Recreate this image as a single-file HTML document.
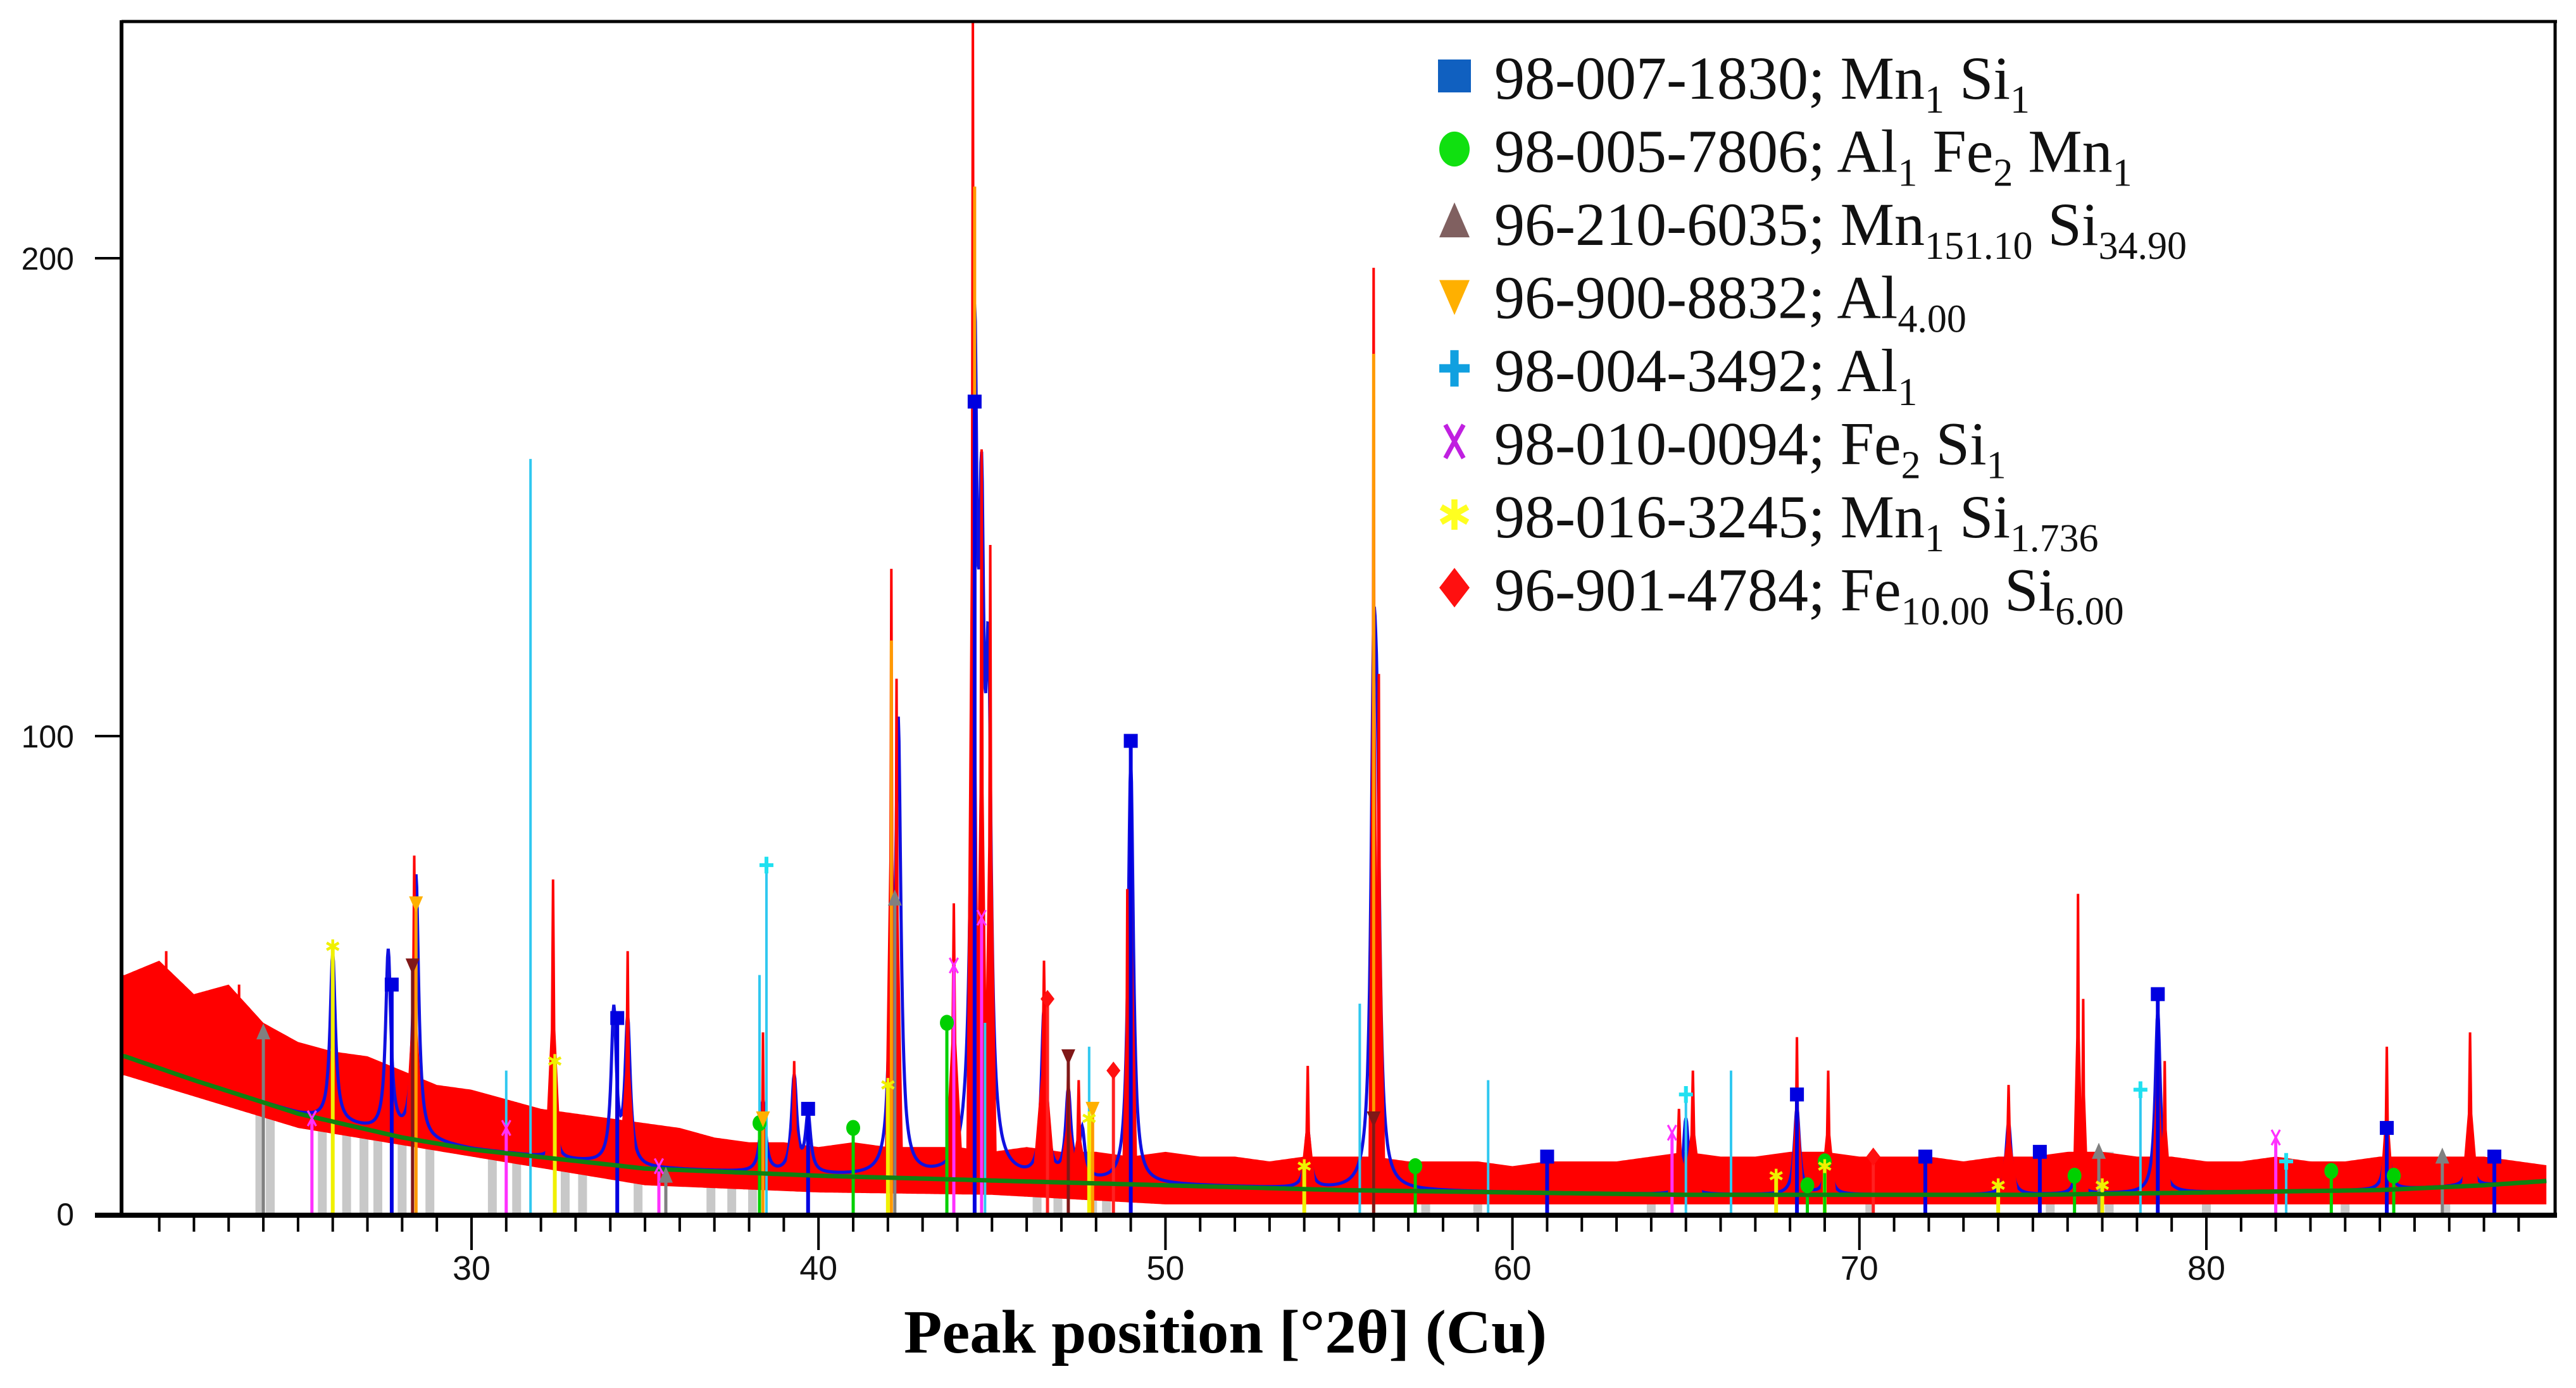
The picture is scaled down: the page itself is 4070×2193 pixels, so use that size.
<!DOCTYPE html>
<html><head><meta charset="utf-8"><style>
html,body{margin:0;padding:0;background:#fff;}
svg{display:block;}
</style></head><body>
<svg id="chart" xmlns="http://www.w3.org/2000/svg" width="4070" height="2193" viewBox="0 0 4070 2193">
<defs><clipPath id="plotclip"><rect x="194" y="36" width="3841" height="1884"/></clipPath></defs>
<rect x="0" y="0" width="4070" height="2193" fill="#fff"/>
<g id="plot" clip-path="url(#plotclip)"></g>
<g id="axes"></g>
<g id="legend" font-family="'Liberation Serif', serif" font-size="96" fill="#111"></g>
<text x="1936" y="2137" text-anchor="middle" font-family="'Liberation Serif', serif" font-weight="bold" font-size="98" textLength="1016" lengthAdjust="spacingAndGlyphs" fill="#000">Peak position [°2θ] (Cu)</text>
</svg>
<script>
// ---- data ----
const xTicks = [30, 40, 50, 60, 70, 80];
const yTicks = [0, 100, 200];
const bgX = [20, 22, 25, 28, 30, 35, 40, 45, 50, 55, 60, 65, 70, 75, 80, 85, 88, 90];
const bgY = [33, 28, 21, 16, 13.5, 9.5, 8, 7, 6, 5, 4.5, 4, 4, 4, 4.5, 5, 6, 7];
const noiseTopX = [20,21,22,23,24,25,26,27,28,29,30,31,32,33,34,35,36,37,38,39,40,41,42,43,44,45,46,47,48,49,50,51,52,53,54,55,56,57,58,59,60,61,62,63,64,65,66,67,68,69,70,71,72,73,74,75,76,77,78,79,80,81,82,83,84,85,86,87,88,89,90];
const noiseTopY = [50,53,46,48,40,36,34,33,30,27,26,24,22,21,20,19,18,16,15,15,14,15,14,14,14,13,14,13,13,12,13,12,12,11,12,12,12,11,11,11,10,11,11,11,12,13,12,12,13,13,12,12,12,11,12,12,13,13,12,12,11,11,12,11,11,12,12,12,12,11,10];
const noiseBotX = [20, 25, 30, 35, 40, 45, 50, 60, 70, 80, 90];
const noiseBotY = [29, 18, 12, 6, 4.5, 4, 2, 2, 2, 2, 2];
const peakPos = [26.0,27.6,28.35,32.35,34.2,34.5,38.4,39.3,42.1,42.25,43.9,44.45,44.7,44.95,46.5,47.2,47.5,48.9,49.0,54.1,56.0,56.15,64.8,65.2,68.2,69.1,74.3,76.3,76.45,78.6,78.8,85.2,87.6,21.2,23.3];
const peakH   = [55,30,75,70,35,55,38,32,135,112,65,250,160,140,53,32,28,68,100,31,198,113,22,30,37,30,27,67,45,45,32,35,38,55,48];
const peakW   = [0.10,0.10,0.12,0.10,0.08,0.10,0.06,0.12,0.08,0.08,0.12,0.08,0.08,0.08,0.15,0.12,0.12,0.06,0.08,0.10,0.06,0.08,0.15,0.12,0.08,0.10,0.12,0.06,0.06,0.08,0.08,0.08,0.10,0.05,0.05];
const calcPos = [26.0,27.6,28.4,32.4,34.1,34.5,38.4,39.3,39.7,42.1,42.3,44.5,44.7,44.9,46.5,47.2,47.6,49.0,54.1,56.0,56.1,65.0,68.2,69.1,74.3,76.3,78.6,85.2,87.6];
const calcH   = [35,38,55,8,32,30,15,20,12,35,90,160,110,90,35,18,10,88,12,90,65,16,18,10,15,8,38,12,9];
const mnsiPos = [27.7,34.2,39.7,44.5,49.0,61.0,68.2,71.9,75.2,78.6,85.2,88.3];
const mnsiH   = [48,41,22,170,99,12,25,12,13,46,18,12];
const alfemnPos = [38.3,41.0,43.7,57.2,69.0,76.2,83.6,85.4,68.5];
const alfemnH   = [19,18,40,10,11,8,9,8,6];
const mn151Pos = [24.0,76.9,86.8,42.2,35.6];
const mn151H   = [38,13,12,66,8];
const al4Pos = [44.5,56.0,42.1,28.4,38.4,47.9];
const al4H   = [215,180,120,65,20,22];
const al1Pos = [31.7,38.5,44.8,65.0,78.1,82.3,55.6,59.3,66.3,31.0,38.3,47.8];
const al1H   = [158,73,40,25,26,11,44,28,30,30,50,35];
const fe2siPos = [25.4,31.0,43.9,44.7,64.6,82.0,35.4];
const fe2siH   = [20,18,52,62,17,16,10];
const mnsi17Pos = [26.0,32.4,42.0,47.8,54.0,67.6,69.0,74.0,77.0];
const mnsi17H   = [56,32,27,20,10,8,10,6,6];
const fe10Pos = [46.6,48.5,70.4];
const fe10H   = [45,30,12];
const unkPos = [28.3,56.0,47.2];
const unkH   = [52,20,33];
const grayPos = [23.9,24.2,25.7,26.4,26.9,27.3,28.0,28.8,30.6,31.3,32.7,33.2,34.8,36.9,37.5,38.1,46.3,46.9,47.9,48.3,57.5,59.0,64.0,70.3,75.5,77.2,80.0,84.0,86.9];
const grayH   = [26,26,22,20,20,18,18,16,14,13,12,12,10,8,8,8,10,10,9,9,4,4,4,4,4,13,4,4,12];

// ---- scales ----
const X = v => 745 + (v - 30) * 54.82;
const Y = v => 1918 - v * 7.55;
const NS = 'http://www.w3.org/2000/svg';
function mk(tag, attrs, parent){ const e=document.createElementNS(NS,tag); for(const k in attrs) e.setAttribute(k,attrs[k]); parent.appendChild(e); return e; }
function interp(xs, ys, x){ if(x<=xs[0]) return ys[0]; for(let i=1;i<xs.length;i++){ if(x<=xs[i]){ const t=(x-xs[i-1])/(xs[i]-xs[i-1]); return ys[i-1]+t*(ys[i]-ys[i-1]); } } return ys[ys.length-1]; }
const bg = x => interp(bgX, bgY, x);
const plot = document.getElementById('plot');
const axes = document.getElementById('axes');

grayPos.forEach((p,i)=>{
  const l = mk('line',{x1:X(p),x2:X(p),y1:Y(0),y2:Y(grayH[i]),stroke:'#c8c8c8','stroke-width':14},plot);
  
  
});

{
  let pts=[]; for(let x=19.8;x<=89.8;x+=0.05){ pts.push(X(x).toFixed(1)+','+Y(interp(noiseTopX,noiseTopY,x)).toFixed(1)); }
  for(let x=89.8;x>=19.8;x-=0.05){ pts.push(X(x).toFixed(1)+','+Y(interp(noiseBotX,noiseBotY,x)).toFixed(1)); }
  const band = mk('polygon',{points:pts.join(' '),fill:'#ff0000'},plot);
  
  
}

// blue calculated profile (under red peaks)
{
  let pts=[]; for(let x=19.8;x<=89.8;x+=0.02){ let y=bg(x); calcPos.forEach((p,i)=>{ const w=0.09; y+=calcH[i]/(1+((x-p)/w)**2); }); pts.push(X(x).toFixed(1)+','+Y(y).toFixed(1)); }
  const pl = mk('polyline',{points:pts.join(' '),fill:'none',stroke:'#1010e0','stroke-width':5},plot);
  
  
}

peakPos.forEach((p,i)=>{
  const w=peakW[i], b=bg(p);
  const pts=[[p-w*2,b],[p-w*0.3,peakH[i]*0.55],[p,peakH[i]],[p+w*0.3,peakH[i]*0.55],[p+w*2,b]].map(q=>X(q[0]).toFixed(1)+','+Y(q[1]).toFixed(1)).join(' ');
  const pg = mk('polygon',{points:pts,fill:'#ff0000',stroke:'#ff0000','stroke-width':4},plot);
  
  
});

function sticks(pos,h,color,name,width){
  pos.forEach((p,i)=>{
    const l = mk('line',{x1:X(p),x2:X(p),y1:Y(0),y2:Y(h[i]),stroke:color,'stroke-width':width||5},plot);
    
    
  });
}
sticks(al1Pos,al1H,'#30c8f0','al1',4);
sticks(al4Pos,al4H,'#ff9a00','al4',5);
sticks(mnsi17Pos,mnsi17H,'#f0f000','mnsi1736',6);
sticks(fe2siPos,fe2siH,'#ff30ff','fe2si',5);
sticks(alfemnPos,alfemnH,'#00d000','alfe2mn',5);
sticks(mn151Pos,mn151H,'#808080','mn151si34',5);
sticks(fe10Pos,fe10H,'#ff2020','fe10si6',5);
sticks(unkPos,unkH,'#801818','unknown-phase',5);
sticks(mnsiPos,mnsiH,'#0000e0','mnsi',6);

{
  let pts=[]; for(let x=19.8;x<=89.8;x+=0.1){ pts.push(X(x).toFixed(1)+','+Y(bg(x)).toFixed(1)); }
  const pl = mk('polyline',{points:pts.join(' '),fill:'none',stroke:'#108010','stroke-width':7},plot);
  
  
}

function marker(shape,cx,cy,s,color,parent){
  let e;
  if(shape==='square') e=mk('rect',{x:cx-s,y:cy-s,width:2*s,height:2*s,fill:color},parent);
  else if(shape==='circle') e=mk('ellipse',{cx:cx,cy:cy,rx:s,ry:s*1.15,fill:color},parent);
  else if(shape==='tri') e=mk('polygon',{points:`${cx},${cy-s*1.3} ${cx-s},${cy+s} ${cx+s},${cy+s}`,fill:color},parent);
  else if(shape==='itri') e=mk('polygon',{points:`${cx},${cy+s*1.3} ${cx-s},${cy-s} ${cx+s},${cy-s}`,fill:color},parent);
  else if(shape==='diamond') e=mk('polygon',{points:`${cx},${cy-s*1.3} ${cx+s},${cy} ${cx},${cy+s*1.3} ${cx-s},${cy}`,fill:color},parent);
  else if(shape==='plus') e=mk('path',{d:`M${cx-s} ${cy}H${cx+s}M${cx} ${cy-s*1.2}V${cy+s*1.2}`,stroke:color,'stroke-width':s*0.55,fill:'none'},parent);
  else if(shape==='x') e=mk('path',{d:`M${cx-s*0.6} ${cy-s*1.1}L${cx+s*0.6} ${cy+s*1.1}M${cx+s*0.6} ${cy-s*1.1}L${cx-s*0.6} ${cy+s*1.1}`,stroke:color,'stroke-width':s*0.3,fill:'none'},parent);
  else if(shape==='star') e=mk('path',{d:`M${cx} ${cy-s}V${cy+s}M${cx-s*0.87} ${cy-s*0.5}L${cx+s*0.87} ${cy+s*0.5}M${cx+s*0.87} ${cy-s*0.5}L${cx-s*0.87} ${cy+s*0.5}`,stroke:color,'stroke-width':s*0.4,fill:'none'},parent);
  return e;
}
function markSet(pos,h,shape,color,name){
  pos.forEach((p,i)=>{
    const m = marker(shape,X(p),Y(h[i]),11,color,plot);
    
    
  });
}
markSet(mnsiPos,mnsiH,'square','#0000e0','mnsi');
markSet(alfemnPos,alfemnH,'circle','#00d000','alfe2mn');
markSet(mn151Pos,mn151H,'tri','#808080','mn151si34');
markSet(al4Pos.slice(3),al4H.slice(3),'itri','#ffb000','al4');
markSet([38.5,78.1,65.0,82.3],[73,26,25,11],'plus','#20e0f0','al1');
markSet(fe2siPos,fe2siH,'x','#ff30ff','fe2si');
markSet(mnsi17Pos,mnsi17H,'star','#f0f000','mnsi1736');
markSet(fe10Pos,fe10H,'diamond','#ff1010','fe10si6');
markSet(unkPos,unkH,'itri','#801818','unknown-phase');

{
  const top = mk('line',{x1:192,x2:4040,y1:34,y2:34,stroke:'#000','stroke-width':5},axes);
   
  const right = mk('line',{x1:4037,x2:4037,y1:32,y2:1922,stroke:'#000','stroke-width':5},axes);
   
  const yax = mk('line',{x1:192,x2:192,y1:32,y2:1922,stroke:'#000','stroke-width':6},axes);
   
  const xax = mk('line',{x1:150,x2:4040,y1:1920,y2:1920,stroke:'#000','stroke-width':8},axes);
   
}
for(let v=21; v<=89; v++){
  if(xTicks.includes(v)) continue;
  const t = mk('line',{x1:X(v),x2:X(v),y1:1920,y2:1946,stroke:'#000','stroke-width':4},axes);
   
}
xTicks.forEach(v=>{
  const t = mk('line',{x1:X(v),x2:X(v),y1:1920,y2:1975,stroke:'#000','stroke-width':4},axes);
   
  const l = mk('text',{x:X(v),y:2022,'text-anchor':'middle','font-family':"'Liberation Sans', sans-serif",'font-size':54,fill:'#111',textLength:60,lengthAdjust:'spacingAndGlyphs'},axes);
  l.textContent = v;
   
});
yTicks.forEach(v=>{
  const t = mk('line',{x1:150,x2:192,y1:Y(v),y2:Y(v),stroke:'#000','stroke-width':4},axes);
   
  const l = mk('text',{x:117,y:Y(v)+18,'text-anchor':'end','font-family':"'Liberation Sans', sans-serif",'font-size':50,fill:'#111'},axes);
  l.textContent = v;
   
});

// ---- legend ----
const legShapes = ['square','circle','tri','itri','plus','x','star','diamond'];
const legColors = ['#1060c0','#10e010','#806060','#ffb000','#10a0e0','#c020e0','#ffff20','#ff1010'];
const legIds = ['98-007-1830; ','98-005-7806; ','96-210-6035; ','96-900-8832; ','98-004-3492; ','98-010-0094; ','98-016-3245; ','96-901-4784; '];
const legFormula = [
  [['Mn','1'],['Si','1']],
  [['Al','1'],['Fe','2'],['Mn','1']],
  [['Mn','151.10'],['Si','34.90']],
  [['Al','4.00']],
  [['Al','1']],
  [['Fe','2'],['Si','1']],
  [['Mn','1'],['Si','1.736']],
  [['Fe','10.00'],['Si','6.00']]
];
const legend = document.getElementById('legend');
legIds.forEach((id,i)=>{
  const by = 156 + i*115.5;
  const g = mk('g',{},legend);
  
  
  const m = marker(legShapes[i],2298,by-36,legShapes[i]==='square'?26:24,legColors[i],g);
  
  
  const t = mk('text',{x:2361,y:by},g);
  
  
  const s0 = mk('tspan',{},t); s0.textContent = id;
  legFormula[i].forEach((f,j)=>{
    const el = mk('tspan',{dy: j>0 ? -22 : 0},t); el.textContent = (j>0?' ':'') + f[0];
    const sub = mk('tspan',{'font-size':62,dy:22},t); sub.textContent = f[1];
  });
});
</script>
</body></html>
